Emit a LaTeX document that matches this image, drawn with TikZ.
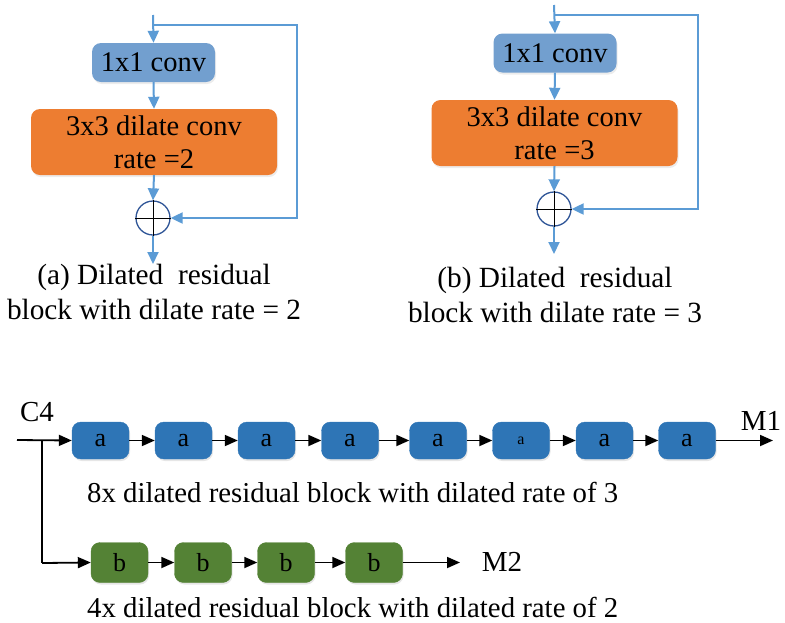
\documentclass[tikz,border=0pt]{standalone}
\usepackage{fontspec}
\setmainfont{Liberation Serif}
\usetikzlibrary{arrows.meta,shadows}
\definecolor{convblue}{RGB}{114,159,207}
\definecolor{convorange}{RGB}{237,125,49}
\definecolor{lineblue}{RGB}{91,155,213}
\definecolor{sumblue}{RGB}{47,85,151}
\definecolor{ablue}{RGB}{46,117,182}
\definecolor{bgreen}{RGB}{84,130,53}
\tikzset{
  every node/.style={font=\rmfamily},
  conv/.style={draw=none,fill=convblue,rounded corners=9pt,minimum width=123pt,minimum height=39pt,inner sep=0pt,
    font=\rmfamily\fontsize{28.5}{31}\selectfont,drop shadow={opacity=0.15,shadow xshift=1pt,shadow yshift=-2pt}},
  dil/.style={draw=none,fill=convorange,rounded corners=9pt,minimum width=246pt,minimum height=66pt,inner sep=0pt,align=center,
    font=\rmfamily\fontsize{28.5}{33}\selectfont,drop shadow={opacity=0.15,shadow xshift=1pt,shadow yshift=-2pt}},
  sumc/.style={circle,draw=sumblue,fill=white,line width=1.3pt,minimum size=34pt,inner sep=0pt},
  bl/.style={draw=lineblue,line width=2pt,-{Triangle[length=12pt,width=11pt]}},
  blk/.style={draw=ablue,fill=ablue,rounded corners=9pt,minimum width=57pt,minimum height=37pt,inner sep=0pt,
    font=\rmfamily\fontsize{26}{28}\selectfont,drop shadow={opacity=0.2,shadow xshift=1pt,shadow yshift=-2pt}},
  gblk/.style={blk,draw=bgreen,fill=bgreen,minimum height=40pt},
  ka/.style={draw=black,line width=1.8pt,-{Triangle[length=13pt,width=11pt]}},
  captxt/.style={font=\rmfamily\fontsize{29.3}{32}\selectfont,inner sep=0pt},
  bottxt/.style={font=\rmfamily\fontsize{28.8}{32}\selectfont,inner sep=0pt},
  lbl/.style={font=\rmfamily\fontsize{29}{30}\selectfont,inner sep=0pt}
}
\begin{document}
\begin{tikzpicture}[x=1pt,y=-1pt]
\useasboundingbox (0,0) rectangle (785,622);
% ---- block (a)
\coordinate (inA) at (153,15);
\coordinate (brA) at (153,25);
\coordinate (rA1) at (297,25);
\coordinate (rA2) at (297,218);
\coordinate (outA) at (153,264);
\node[conv] (c1a) at (153.5,62.5) {1x1 conv};
\node[dil] (d3a) at (154,142) {3x3 dilate conv\\rate =2};
\node[sumc] (sa) at (153,218) {};
\draw[line width=1pt] (sa.north) -- (sa.south) (sa.west) -- (sa.east);
\draw[bl] (inA) -- (c1a.north);
\draw[bl] (c1a.south) -- (d3a.north);
\draw[bl] (d3a.south) -- (sa.north);
\draw[bl] (brA) -- (rA1) -- (rA2) -- (sa.east);
\draw[bl] (sa.south) -- (outA);
\node[captxt] (capa1) at (154,277) {(a) Dilated\ \ residual};
\node[captxt] (capa2) at (154,309) {block with dilate rate = 2};
% ---- block (b)
\coordinate (inB) at (554,5);
\coordinate (brB) at (554,15);
\coordinate (rB1) at (698,15);
\coordinate (rB2) at (698,209);
\coordinate (outB) at (554,254);
\node[conv] (c1b) at (555,53) {1x1 conv};
\node[dil] (d3b) at (554.5,133) {3x3 dilate conv\\rate =3};
\node[sumc] (sb) at (554,209) {};
\draw[line width=1pt] (sb.north) -- (sb.south) (sb.west) -- (sb.east);
\draw[bl] (inB) -- (c1b.north);
\draw[bl] (c1b.south) -- (d3b.north);
\draw[bl] (d3b.south) -- (sb.north);
\draw[bl] (brB) -- (rB1) -- (rB2) -- (sb.east);
\draw[bl] (sb.south) -- (outB);
\node[captxt] (capb1) at (555,280) {(b) Dilated\ \ residual};
\node[captxt] (capb2) at (555,312) {block with dilate rate = 3};
% ---- bottom chain
\node[lbl] (c4) at (37,412) {C4};
\coordinate (st) at (17,440);
\coordinate (sp) at (42,440);
\coordinate (sp2) at (42,563);
\node[blk] (a1) at (100.5,440.5) {a};
\node[blk] (a2) at (183.5,440.5) {a};
\node[blk] (a3) at (266.5,440.5) {a};
\node[blk] (a4) at (350,440.5) {a};
\node[blk] (a5) at (438,440.5) {a};
\node[blk,font=\rmfamily\fontsize{16}{18}\selectfont] (a6) at (521,440.5) {a};
\node[blk] (a7) at (604.5,440.5) {a};
\node[blk] (a8) at (687,440.5) {a};
\coordinate (m1e) at (773,440.5);
\node[lbl] (m1) at (761,421) {M1};
\draw[ka] (st) -- (a1.west);
\draw[ka] (a1) -- (a2);
\draw[ka] (a2) -- (a3);
\draw[ka] (a3) -- (a4);
\draw[ka] (a4) -- (a5);
\draw[ka] (a5) -- (a6);
\draw[ka] (a6) -- (a7);
\draw[ka] (a7) -- (a8);
\draw[ka] (a8) -- (m1e);
\node[bottxt,anchor=west] (t8) at (87,492) {8x dilated residual block with dilated rate of 3};
\node[gblk] (b1) at (119.5,562.5) {b};
\node[gblk] (b2) at (203,562.5) {b};
\node[gblk] (b3) at (286,562.5) {b};
\node[gblk] (b4) at (374,562.5) {b};
\coordinate (m2e) at (460,562.5);
\node[lbl] (m2) at (502,562) {M2};
\draw[line width=1.8pt] (sp) -- (sp2);
\draw[ka] (sp2) -- (b1.west);
\draw[ka] (b1) -- (b2);
\draw[ka] (b2) -- (b3);
\draw[ka] (b3) -- (b4);
\draw[ka] (b4) -- (m2e);
\node[bottxt,anchor=west] (t4) at (87,607) {4x dilated residual block with dilated rate of 2};
\end{tikzpicture}
\end{document}
